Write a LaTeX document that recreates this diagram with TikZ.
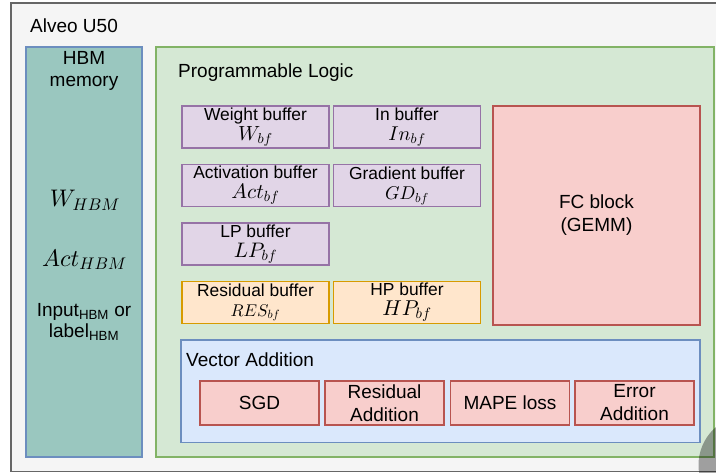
\documentclass[tikz,border=0pt]{standalone}
\usepackage{fontspec}
\setmainfont{Liberation Sans}
% math italic scaled freely from the 10pt design
\DeclareFontShape{OML}{cmm}{m}{it}{<->cmmi10}{}

\definecolor{outerFill}{HTML}{F5F5F5}
\definecolor{outerLine}{HTML}{666666}
\definecolor{hbmFill}{HTML}{9AC7BF}
\definecolor{blueLine}{HTML}{6C8EBF}
\definecolor{plFill}{HTML}{D5E8D4}
\definecolor{plLine}{HTML}{82B366}
\definecolor{bufFill}{HTML}{E1D5E7}
\definecolor{bufLine}{HTML}{9673A6}
\definecolor{orFill}{HTML}{FFE6CC}
\definecolor{orLine}{HTML}{D79B00}
\definecolor{redFill}{HTML}{F8CECC}
\definecolor{redLine}{HTML}{B85450}
\definecolor{vaFill}{HTML}{DAE8FC}

\newcommand\titlefont{\fontsize{19}{22}\selectfont}
\newcommand\buffont{\fontsize{17.4}{20}\selectfont}
\newcommand\mathsz[1]{\fontsize{#1}{20}\selectfont}

\tikzset{
  box/.style={rectangle, draw, line width=1.3pt, inner sep=0pt, align=center},
  bufbox/.style={box, fill=bufFill, draw=bufLine, minimum width=147, minimum height=42, font=\buffont},
  orbox/.style={box, fill=orFill, draw=orLine, minimum width=147, minimum height=42, font=\buffont},
  opbox/.style={box, fill=redFill, draw=redLine, minimum width=119, minimum height=44, font=\fontsize{19}{23}\selectfont},
  lbl/.style={inner sep=0pt, align=center, font=\titlefont},
}

\begin{document}
\begin{tikzpicture}[x=1pt, y=-1pt]
  \useasboundingbox (0,0) rectangle (716,472);
  \clip (0,0) rectangle (716,472);

  % board outline
  \node[box, fill=outerFill, draw=outerLine, minimum width=729, minimum height=468.5] (board) at (375.5,237.2) {};
  \node[lbl, anchor=base west] (boardname) at (30,32.7) {Alveo U50};

  % HBM column
  \node[box, fill=hbmFill, draw=blueLine, minimum width=116, minimum height=410] (hbm) at (84,252) {};
  \node[lbl, anchor=north] (hbmtitle) at (84,51.4) {HBM\\memory};
  \node[inner sep=0pt, anchor=base] (whbm) at (85,206.7) {\mathsz{24}$W_{HBM}$};
  \node[inner sep=0pt, anchor=base] (acthbm) at (84.5,266) {\mathsz{24}$Act_{HBM}$};
  \node[lbl, anchor=north, font=\fontsize{19}{20.5}\selectfont] (inhbm) at (84,303.4)
    {Input\textsubscript{HBM} or\\label\textsubscript{HBM}};

  % programmable logic region
  \node[box, fill=plFill, draw=plLine, minimum width=558, minimum height=410] (pl) at (435,252) {};
  \node[lbl, anchor=base west] (pltitle) at (178,77.3) {Programmable Logic};

  % on-chip buffers
  \node[bufbox] (wbf) at (255.5,127) {Weight buffer\\{\mathsz{20.5}$W_{bf}$}};
  \node[bufbox] (inbf) at (407,127) {In buffer\\{\mathsz{20}$In_{bf}$}};
  \node[bufbox] (actbf) at (255.5,185.5) {Activation buffer\\{\mathsz{21}$Act_{bf}$}};
  \node[bufbox] (gdbf) at (407,185.5) {Gradient buffer\\{\mathsz{18.5}$GD_{bf}$}};
  \node[bufbox] (lpbf) at (255.5,244) {LP buffer\\{\mathsz{21}$LP_{bf}$}};
  \node[orbox] (resbf) at (255.5,302.5) {Residual buffer\\{\mathsz{17}$RES_{bf}$}};
  \node[orbox] (hpbf) at (407,302.5) {HP buffer\\{\mathsz{21.5}$HP_{bf}$}};

  % GEMM engine
  \node[box, fill=redFill, draw=redLine, minimum width=207, minimum height=219,
        font=\fontsize{19}{23}\selectfont] (fc) at (596.5,215.5) {FC block\\(GEMM)};

  % vector unit
  \node[box, fill=vaFill, draw=blueLine, minimum width=519, minimum height=102.5] (va) at (440.5,391.2) {};
  \node[lbl, anchor=base west] (vatitle) at (186,366) {Vector Addition};
  \node[opbox] (sgd) at (259.5,403) {SGD};
  \node[opbox] (resadd) at (384.5,403) {Residual\\Addition};
  \node[opbox] (mape) at (510,403) {MAPE loss};
  \node[opbox] (erradd) at (634.5,403) {Error\\Addition};

  % partial ring in the lower right corner
  \fill[black, opacity=0.35, even odd rule] (748.5,465) circle (50) (748.5,465) circle (28);
\end{tikzpicture}
\end{document}
